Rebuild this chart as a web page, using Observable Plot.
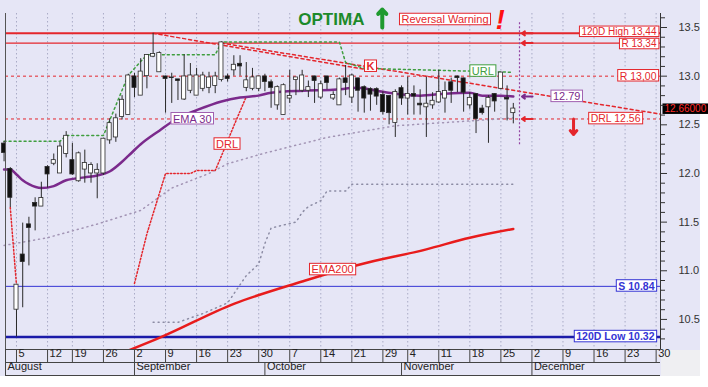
<!DOCTYPE html>
<html><head><meta charset="utf-8">
<script src="https://cdn.jsdelivr.net/npm/d3@7"></script>
<script src="https://cdn.jsdelivr.net/npm/@observablehq/plot@0.6"></script>
<style>
body{margin:0;background:#fff;}
#chart{width:708px;height:387px;background:
 linear-gradient(#efeff2,#efeff2) 661px 350px/39px 26px no-repeat,
 linear-gradient(#e6e6f6,#e6e6f6) 0 0/700px 376px no-repeat, #fff;}
svg{display:block;}
</style></head><body><div id="chart"></div>
<script>
// ---------- calendar (trading days, Athens) ----------
const startDate = "2019-08-01", endDate = "2019-12-31";
const holidays = ["2019-08-15", "2019-10-28"];

// ---------- daily candles from 2019-08-01 (trading-day order) ----------
const open  = [12.30,12.04,10.60,11.16,11.47,11.69,11.66,12.06,12.10,12.00,12.20,12.13,11.92,12.04,12.00,12.00,12.00,12.34,12.37,12.58,
               12.60,12.99,12.80,13.00,13.20,13.04,12.99,12.98,12.96,12.76,12.85,12.80,12.87,12.88,12.90,12.96,12.99,13.06,13.12,12.88,
               12.87,12.87,12.99,12.93,12.70,12.60,12.77,12.96,12.85,12.85,12.99,12.78,12.99,12.77,12.70,12.97,12.78,12.97,12.88,12.86,
               12.86,12.80,12.79,12.52,12.87,12.77,12.81,12.71,12.68,12.70,12.73,12.77,12.93,12.99,12.97,12.70,12.81,12.66,12.68,12.81,
               12.87,12.77,12.62];
const high  = [12.33,12.06,10.86,11.49,11.55,11.75,11.91,12.08,12.20,12.32,12.43,12.31,12.22,12.24,12.11,12.10,12.36,12.56,12.61,12.80,
               13.02,13.03,13.18,13.22,13.44,13.25,13.00,13.03,12.96,13.22,13.13,13.08,13.04,13.04,13.04,13.35,13.02,13.21,13.21,13.14,
               13.08,13.00,13.02,12.96,12.90,12.92,13.06,12.98,13.06,12.95,13.00,12.95,13.00,12.84,12.98,13.11,13.02,12.98,12.90,12.88,
               12.88,12.84,12.80,12.86,12.90,12.99,12.90,12.86,12.99,12.83,13.06,12.94,12.98,13.00,12.98,12.83,12.82,12.70,12.80,12.82,
               13.04,12.90,12.72];
const low   = [12.12,11.65,10.32,10.62,11.05,11.41,11.66,11.85,12.08,12.00,12.16,11.98,11.91,11.90,11.90,11.74,11.98,12.30,12.32,12.55,
               12.60,12.78,12.80,12.87,13.19,13.04,12.62,12.72,12.75,12.75,12.82,12.80,12.84,12.82,12.82,12.94,12.94,13.00,13.00,12.84,
               12.85,12.84,12.84,12.67,12.65,12.60,12.72,12.80,12.83,12.78,12.72,12.76,12.86,12.75,12.70,12.80,12.72,12.63,12.62,12.64,
               12.70,12.60,12.50,12.37,12.70,12.60,12.60,12.60,12.37,12.66,12.72,12.62,12.72,12.83,12.63,12.66,12.41,12.60,12.31,12.63,
               12.86,12.54,12.51];
const close = [12.21,11.75,10.85,11.09,11.44,11.66,11.74,11.99,12.13,12.27,12.38,11.99,12.20,12.10,12.08,12.03,12.35,12.51,12.56,12.75,
               13.00,12.88,13.04,13.21,13.22,13.23,12.97,12.98,12.95,12.99,13.00,13.00,13.00,12.98,12.99,13.34,12.97,13.11,13.10,12.95,
               12.98,12.99,12.94,12.88,12.88,12.90,12.79,12.98,13.00,12.88,12.95,12.91,12.93,12.80,12.96,12.93,13.00,12.85,12.77,12.81,
               12.79,12.63,12.62,12.83,12.77,12.81,12.79,12.70,12.71,12.74,12.83,12.84,12.85,12.98,12.83,12.77,12.56,12.62,12.77,12.74,
               13.03,12.76,12.66];

// ---------- indicators (trading-day index from 2019-08-01, value) ----------
const ema30Day = [0,1,2,3,4,6,8,10,13,15,17,19,20,22,25,28,31,35,38,41,43,48,53,57,60,63,67,71,75,77,80,82];
const ema30    = [12.04,12.04,11.99,11.93,11.89,11.85,11.87,11.93,11.96,11.98,12.02,12.12,12.18,12.30,12.44,12.57,12.65,12.74,12.78,12.80,12.83,12.85,12.86,12.88,12.85,12.82,12.80,12.82,12.83,12.80,12.80,12.79];
const ema200Day = [20,25,37,48,57,68,75,82];
const ema200    = [10.18,10.31,10.66,10.89,11.06,11.22,11.34,11.43];
const drlDay1 = [1,2], drl1 = [11.65,10.85];
const drlDay2 = [21,23,26,30,31,34,35,37,39];
const drl2    = [10.87,11.38,12.00,12.00,12.03,12.03,12.18,12.49,12.79];
const urlDay = [0,9,10,16,20,23,34,35,54,55,58,82];
const url    = [12.33,12.33,12.39,12.39,13.01,13.22,13.22,13.35,13.35,13.14,13.08,13.04];
const band1Day = [0,7,15,22,27,33,36,42,47,52,63,75,82];
const band1    = [11.26,11.34,11.48,11.62,11.85,12.00,12.10,12.21,12.29,12.37,12.49,12.54,12.57];
const band2Day = [24,28,32,36,39,41,42,43,47,48,49,51,52,55,56,82];
const band2    = [10.47,10.47,10.56,10.67,10.95,11.07,11.28,11.44,11.50,11.60,11.66,11.72,11.82,11.82,11.89,11.89];
const trendADay = [24,59], trendA = [13.44,13.06];
const trendBDay = [35,105.7], trendB = [13.34,12.61];

// ---------- levels ----------
const levelValues = [13.44, 13.34, 13.00, 12.56, 10.84, 10.32];
const levelLabels = ["120D High 13,44", "R 13,34", "R 13,00", "DRL 12.56", "S 10.84", "120D Low 10.32"];
const emaLast = 12.79;

// ---------- axis labels ----------
const priceTicks = [10.5, 11.0, 11.5, 12.0, 12.5, 13.0, 13.5];
const weekTickDates = ["2019-08-05","2019-08-12","2019-08-19","2019-08-26","2019-09-02","2019-09-09","2019-09-16","2019-09-23","2019-09-30",
  "2019-10-07","2019-10-14","2019-10-21","2019-10-29","2019-11-04","2019-11-11","2019-11-18","2019-11-25","2019-12-02","2019-12-09",
  "2019-12-16","2019-12-23","2019-12-30"];
const weekTickLabels = ["5","12","19","26","2","9","16","23","30","7","14","21","29","4","11","18","25","2","9","16","23","30"];
const monthStartDates = ["2019-08-01","2019-09-02","2019-10-01","2019-11-01","2019-12-02"];
const monthLabels = ["August","September","October","November","December"];

// ---------- build ----------
const calendar = [];
for (let d = new Date(startDate + "T00:00:00Z"); d <= new Date(endDate + "T00:00:00Z"); d.setUTCDate(d.getUTCDate() + 1)) {
  const wd = d.getUTCDay(), s = d.toISOString().slice(0, 10);
  if (wd !== 0 && wd !== 6 && !holidays.includes(s)) calendar.push(s);
}
const X0 = 0.229, X1 = 105.704, Y0 = 10.191, Y1 = 13.644;
const kOf = s => calendar.indexOf(s);
const candles = open.map((o, i) => ({k: i, date: calendar[i], open: o, high: high[i], low: low[i], close: close[i]}));
const pts = (ks, vs) => ks.map((k, i) => ({k, v: vs[i]}));
const weeks = weekTickDates.map((s, i) => ({k: kOf(s), label: weekTickLabels[i]}));
const months = monthStartDates.map((s, i) => ({k: Math.max(X0, kOf(s)), label: monthLabels[i]}));
const minorTicks = d3.range(103, 137).map(v => v / 10).filter(v => Math.round(v * 10) % 5 !== 0);
const lastK = candles.length;            // next session marker
const lastClose = close[close.length - 1];

const RED = "#e4262c", BLUE = "#3434d4", DBLUE = "#1a1aa8", PURP = "#7b2a8c", GREEN = "#3f9e3f";
const font = "Liberation Sans, Arial, sans-serif";

const chart = Plot.plot({
  width: 708, height: 387,
  marginLeft: 5, marginRight: 48, marginTop: 13, marginBottom: 38,
  x: {domain: [X0, X1], axis: null, label: null},
  y: {domain: [Y0, Y1], axis: null, label: null},
  style: {background: "none", fontFamily: font, fontSize: "11px"},
  marks: [
    Plot.ruleX(weeks, {x: "k", stroke: "#a9abc6", strokeDasharray: "1.5,2.5"}),
    // level lines
    Plot.ruleY([levelValues[0]], {y: d => d, stroke: RED, strokeWidth: 2}),
    Plot.ruleY([levelValues[1]], {y: d => d, stroke: RED, strokeWidth: 1.3}),
    Plot.ruleY([levelValues[2], levelValues[3]], {y: d => d, stroke: RED, strokeDasharray: "3,3"}),
    Plot.ruleY([levelValues[4]], {y: d => d, stroke: BLUE, strokeWidth: 1}),
    Plot.ruleY([levelValues[5]], {y: d => d, stroke: DBLUE, strokeWidth: 2.5}),
    // bands
    Plot.line(pts(band1Day, band1), {x: "k", y: "v", stroke: "#a294b4", strokeDasharray: "1,4"}),
    Plot.line(pts(band2Day, band2), {x: "k", y: "v", stroke: "#8c8ca4", strokeDasharray: "1,4"}),
    // trend lines
    Plot.line(pts(trendADay, trendA), {x: "k", y: "v", stroke: RED, strokeDasharray: "3,3"}),
    Plot.line(pts(trendBDay, trendB), {x: "k", y: "v", stroke: RED, strokeDasharray: "3,3"}),
    Plot.line(pts(urlDay, url), {x: "k", y: "v", stroke: GREEN, strokeDasharray: "2,3"}),
    Plot.line(pts(drlDay1, drl1), {x: "k", y: "v", stroke: RED, strokeDasharray: "1.5,2"}),
    Plot.line(pts(drlDay2, drl2), {x: "k", y: "v", stroke: RED, strokeDasharray: "1.5,2"}),
    // EMAs
    Plot.line(pts(ema200Day, ema200), {x: "k", y: "v", stroke: "#e81c1c", strokeWidth: 2.5, curve: "monotone-x", clip: true}),
    Plot.line(pts(ema30Day, ema30), {x: "k", y: "v", stroke: PURP, strokeWidth: 2.5, curve: "monotone-x"}),
    // candles
    Plot.ruleX(candles, {x: "k", y1: "low", y2: "high", stroke: "#2a2a2a", strokeWidth: 1}),
    Plot.rect(candles, {x1: d => d.k - 0.33, x2: d => d.k + 0.33,
      y1: d => Math.min(d.open, d.close), y2: d => Math.max(d.open, d.close) + 0.007,
      fill: d => d.close >= d.open ? "#ffffff" : "#111111", stroke: "#2a2a2a", strokeWidth: 0.8}),
    // next-session marker
    Plot.ruleX([lastK], {x: d => d, y1: 13.55, y2: 12.29, stroke: "#9444a4", strokeDasharray: "2,2", strokeWidth: 1.2}),
    // arrows
    Plot.arrow([levelValues[0], levelValues[1], levelValues[3]], {x1: lastK + 2.1, x2: lastK + 0.4, y1: d => d, y2: d => d, stroke: RED, strokeWidth: 2, headLength: 5, headAngle: 70}),
    Plot.arrow([emaLast], {x1: lastK + 2.1, x2: lastK + 0.4, y1: d => d, y2: d => d, stroke: PURP, strokeWidth: 2, headLength: 5, headAngle: 70}),
    Plot.arrow([levelValues[3]], {x1: 91.7, x2: 91.7, y1: d => d, y2: 12.40, stroke: RED, strokeWidth: 3, headLength: 7, headAngle: 80}),
    Plot.arrow([13.5], {x1: 60.9, x2: 60.9, y1: d => d, y2: 13.685, stroke: "#1f9a2f", strokeWidth: 4, headLength: 8, headAngle: 85}),
    // labels
    Plot.text([0], {frameAnchor: "right", y: i => levelValues[i], text: i => levelLabels[i], textAnchor: "end", dx: -4, dy: -1.5, fill: RED, fontSize: 10}),
    Plot.text([1], {frameAnchor: "right", y: i => levelValues[i], text: i => levelLabels[i], textAnchor: "end", dx: -4, dy: 1, fill: RED, fontSize: 10}),
    Plot.text([2], {frameAnchor: "right", y: i => levelValues[i], text: i => levelLabels[i], textAnchor: "end", dx: -4, fill: RED, fontSize: 10.5}),
    Plot.text([3], {frameAnchor: "right", y: i => levelValues[i], text: i => levelLabels[i], textAnchor: "end", dx: -20, fill: RED, fontSize: 10.5}),
    Plot.text([4, 5], {frameAnchor: "right", y: i => levelValues[i], text: i => levelLabels[i], textAnchor: "end", dx: -6, fill: BLUE, fontWeight: "bold", fontSize: 10.5}),
    Plot.text([emaLast], {x: 90.6, y: d => d, text: d => d.toFixed(2), fill: PURP}),
    Plot.text([lastClose], {frameAnchor: "right", y: d => d, text: d => d.toFixed(5), textAnchor: "start", dx: 4, fill: "#ff2a2a", fontSize: 10}),
    Plot.text(["EMA 30"], {x: 30.3, y: 12.56, text: d => d, fill: PURP}),
    Plot.text(["DRL"], {x: 35.9, y: 12.30, text: d => d, fill: RED}),
    Plot.text(["EMA200"], {x: 52.9, y: 11.01, text: d => d, fill: RED}),
    Plot.text(["K"], {x: 59, y: 13.10, text: d => d, fill: RED, fontWeight: "bold"}),
    Plot.text(["URL"], {x: 77.1, y: 13.05, text: d => d, fill: GREEN}),
    Plot.text(["OPTIMA"], {x: 52.7, y: 13.585, text: d => d, fill: "#1c8a2a", fontSize: 17, fontWeight: "bold"}),
    Plot.text(["Reversal Warning"], {x: 71, y: 13.58, text: d => d, fill: RED}),
    Plot.text(["!"], {x: 79.9, y: 13.575, text: d => d, fill: "#ff1010", fontSize: 27, fontWeight: "bold", fontStyle: "italic"}),
    // right price axis
    Plot.ruleX([X1], {x: d => d, stroke: "#333"}),
    Plot.axisY({anchor: "right", ticks: minorTicks, tickSize: 4, tickFormat: () => "", color: "#333", label: null}),
    Plot.axisY({anchor: "right", ticks: priceTicks, tickSize: 6, tickPadding: 12, tickFormat: d3.format(".1f"), color: "#333", fontSize: 11, label: null}),
    // date axis
    Plot.ruleX([X0], {x: d => d, stroke: "#555"}),
    Plot.ruleY([Y0], {y: d => d, stroke: "#444"}),
    Plot.ruleY([Y0], {y: d => d, dy: 13, stroke: "#444"}),
    Plot.ruleY([Y0], {y: d => d, dy: 26, stroke: "#444"}),
    Plot.axisX({anchor: "bottom", ticks: [X0], tickSize: 26, tickFormat: () => "", color: "#444", label: null}),
    Plot.axisX({anchor: "bottom", ticks: weeks.map(d => d.k), tickSize: 13, tickFormat: () => "", color: "#444", label: null}),
    Plot.text(weeks, {x: "k", text: "label", frameAnchor: "bottom", dy: 7, dx: 2, textAnchor: "start", fill: "#222"}),
    Plot.axisX({anchor: "bottom", ticks: months.slice(1).map(d => d.k), tickSize: 13, dy: 13, tickFormat: () => "", color: "#444", label: null}),
    Plot.text(months, {x: "k", text: "label", frameAnchor: "bottom", dy: 20, dx: 2, textAnchor: "start", fill: "#222"})
  ]
});
document.getElementById("chart").appendChild(chart);

// boxes behind annotation labels
const boxStyle = {};
levelLabels.slice(0, 4).forEach(t => boxStyle[t] = ["#fff", RED]);
levelLabels.slice(4).forEach(t => boxStyle[t] = ["#fff", BLUE]);
["K", "DRL", "EMA200", "Reversal Warning"].forEach(t => boxStyle[t] = ["#fff", RED]);
["EMA 30", emaLast.toFixed(2)].forEach(t => boxStyle[t] = ["#fff", "#a060b0"]);
boxStyle["URL"] = ["#fff", GREEN];
boxStyle[lastClose.toFixed(5)] = ["#000", "none"];
chart.querySelectorAll("text").forEach(t => {
  const st = boxStyle[t.textContent];
  if (!st) return;
  const b = t.getBBox();
  const r = document.createElementNS("http://www.w3.org/2000/svg", "rect");
  r.setAttribute("x", b.x - 2); r.setAttribute("y", b.y);
  r.setAttribute("width", b.width + 4); r.setAttribute("height", b.height - 0.5);
  r.setAttribute("fill", st[0]); r.setAttribute("stroke", st[1]); r.setAttribute("stroke-width", 1);
  if (t.getAttribute("transform")) r.setAttribute("transform", t.getAttribute("transform"));
  t.parentNode.insertBefore(r, t);
});
</script></body></html>
